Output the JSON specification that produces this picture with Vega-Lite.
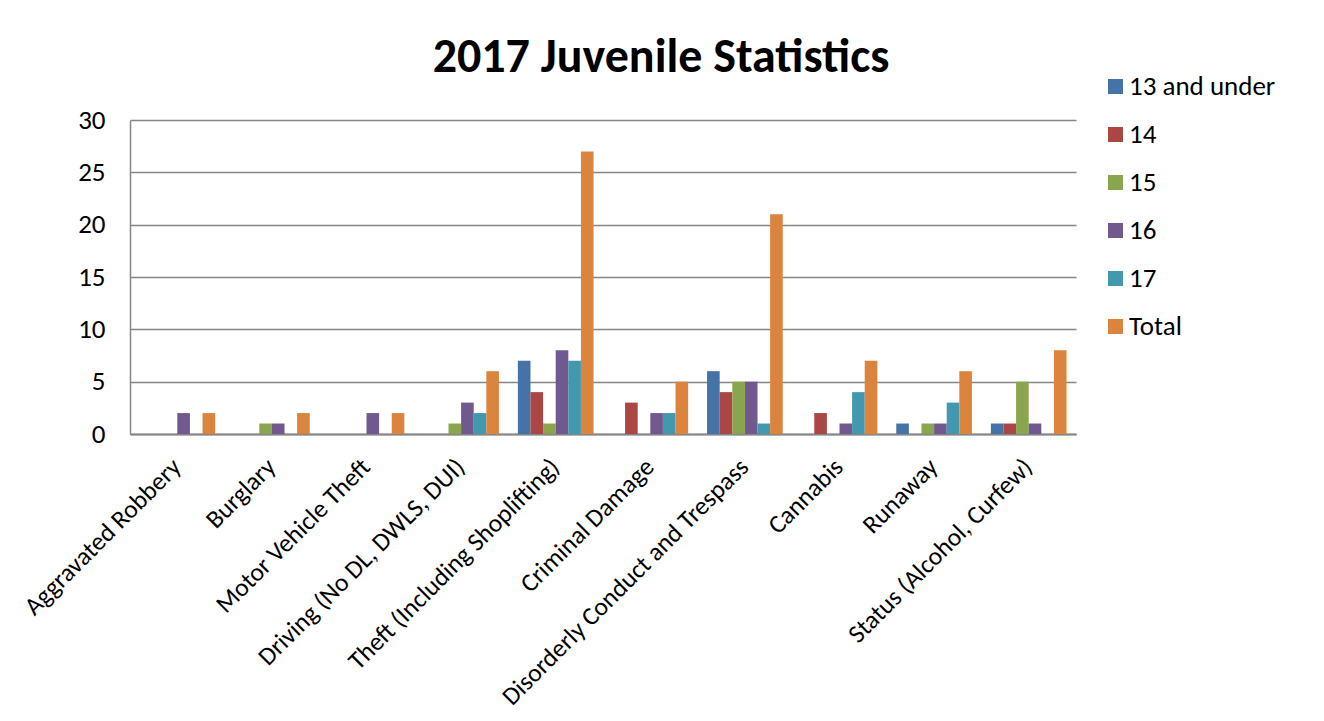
{
  "$schema": "https://vega.github.io/schema/vega-lite/v6.json",
  "width": 946,
  "height": 314,
  "autosize": {"type": "none"},
  "padding": {"left": 130, "top": 120, "right": 248, "bottom": 287},
  "background": "white",
  "title": {
    "text": "2017 Juvenile Statistics",
    "anchor": "middle",
    "frame": "group",
    "dx": 58,
    "fontSize": 48,
    "font": "Carlito, Open Sans, sans-serif",
    "fontWeight": "bold",
    "color": "black",
    "baseline": "alphabetic",
    "offset": -47
  },
  "data": {
    "values": [
      {"category": "Aggravated Robbery", "age": "13 and under", "count": 0},
      {"category": "Aggravated Robbery", "age": "14", "count": 0},
      {"category": "Aggravated Robbery", "age": "15", "count": 0},
      {"category": "Aggravated Robbery", "age": "16", "count": 2},
      {"category": "Aggravated Robbery", "age": "17", "count": 0},
      {"category": "Aggravated Robbery", "age": "Total", "count": 2},
      {"category": "Burglary", "age": "13 and under", "count": 0},
      {"category": "Burglary", "age": "14", "count": 0},
      {"category": "Burglary", "age": "15", "count": 1},
      {"category": "Burglary", "age": "16", "count": 1},
      {"category": "Burglary", "age": "17", "count": 0},
      {"category": "Burglary", "age": "Total", "count": 2},
      {"category": "Motor Vehicle Theft", "age": "13 and under", "count": 0},
      {"category": "Motor Vehicle Theft", "age": "14", "count": 0},
      {"category": "Motor Vehicle Theft", "age": "15", "count": 0},
      {"category": "Motor Vehicle Theft", "age": "16", "count": 2},
      {"category": "Motor Vehicle Theft", "age": "17", "count": 0},
      {"category": "Motor Vehicle Theft", "age": "Total", "count": 2},
      {"category": "Driving (No DL, DWLS, DUI)", "age": "13 and under", "count": 0},
      {"category": "Driving (No DL, DWLS, DUI)", "age": "14", "count": 0},
      {"category": "Driving (No DL, DWLS, DUI)", "age": "15", "count": 1},
      {"category": "Driving (No DL, DWLS, DUI)", "age": "16", "count": 3},
      {"category": "Driving (No DL, DWLS, DUI)", "age": "17", "count": 2},
      {"category": "Driving (No DL, DWLS, DUI)", "age": "Total", "count": 6},
      {"category": "Theft (Including Shoplifting)", "age": "13 and under", "count": 7},
      {"category": "Theft (Including Shoplifting)", "age": "14", "count": 4},
      {"category": "Theft (Including Shoplifting)", "age": "15", "count": 1},
      {"category": "Theft (Including Shoplifting)", "age": "16", "count": 8},
      {"category": "Theft (Including Shoplifting)", "age": "17", "count": 7},
      {"category": "Theft (Including Shoplifting)", "age": "Total", "count": 27},
      {"category": "Criminal Damage", "age": "13 and under", "count": 0},
      {"category": "Criminal Damage", "age": "14", "count": 3},
      {"category": "Criminal Damage", "age": "15", "count": 0},
      {"category": "Criminal Damage", "age": "16", "count": 2},
      {"category": "Criminal Damage", "age": "17", "count": 2},
      {"category": "Criminal Damage", "age": "Total", "count": 5},
      {"category": "Disorderly Conduct and Trespass", "age": "13 and under", "count": 6},
      {"category": "Disorderly Conduct and Trespass", "age": "14", "count": 4},
      {"category": "Disorderly Conduct and Trespass", "age": "15", "count": 5},
      {"category": "Disorderly Conduct and Trespass", "age": "16", "count": 5},
      {"category": "Disorderly Conduct and Trespass", "age": "17", "count": 1},
      {"category": "Disorderly Conduct and Trespass", "age": "Total", "count": 21},
      {"category": "Cannabis", "age": "13 and under", "count": 0},
      {"category": "Cannabis", "age": "14", "count": 2},
      {"category": "Cannabis", "age": "15", "count": 0},
      {"category": "Cannabis", "age": "16", "count": 1},
      {"category": "Cannabis", "age": "17", "count": 4},
      {"category": "Cannabis", "age": "Total", "count": 7},
      {"category": "Runaway", "age": "13 and under", "count": 1},
      {"category": "Runaway", "age": "14", "count": 0},
      {"category": "Runaway", "age": "15", "count": 1},
      {"category": "Runaway", "age": "16", "count": 1},
      {"category": "Runaway", "age": "17", "count": 3},
      {"category": "Runaway", "age": "Total", "count": 6},
      {"category": "Status (Alcohol, Curfew)", "age": "13 and under", "count": 1},
      {"category": "Status (Alcohol, Curfew)", "age": "14", "count": 1},
      {"category": "Status (Alcohol, Curfew)", "age": "15", "count": 5},
      {"category": "Status (Alcohol, Curfew)", "age": "16", "count": 1},
      {"category": "Status (Alcohol, Curfew)", "age": "17", "count": 0},
      {"category": "Status (Alcohol, Curfew)", "age": "Total", "count": 8}
    ]
  },
  "mark": {"type": "bar"},
  "encoding": {
    "x": {
      "field": "category",
      "type": "nominal",
      "sort": null,
      "title": null,
      "scale": {"paddingInner": 0.2, "paddingOuter": 0.1},
      "axis": {
        "labelAngle": -45,
        "labelFontSize": 25.5,
        "labelFont": "Carlito, Open Sans, sans-serif",
        "labelColor": "black",
        "labelPadding": 20,
        "labelOffset": -9,
        "labelLimit": 0,
        "ticks": false,
        "domainColor": "#868686",
        "domainWidth": 2,
        "grid": false
      }
    },
    "xOffset": {
      "field": "age",
      "type": "nominal",
      "sort": ["13 and under", "14", "15", "16", "17", "Total"],
      "scale": {"paddingInner": 0, "paddingOuter": 0}
    },
    "y": {
      "field": "count",
      "type": "quantitative",
      "title": null,
      "scale": {"domain": [0, 30], "nice": false},
      "axis": {
        "values": [0, 5, 10, 15, 20, 25, 30],
        "labelFontSize": 27,
        "labelFont": "Carlito, Open Sans, sans-serif",
        "labelColor": "black",
        "labelPadding": 25,
        "ticks": false,
        "domainColor": "#868686",
        "domainWidth": 1.5,
        "gridColor": "#868686",
        "gridWidth": 1.5
      }
    },
    "color": {
      "field": "age",
      "type": "nominal",
      "sort": ["13 and under", "14", "15", "16", "17", "Total"],
      "title": null,
      "scale": {
        "domain": ["13 and under", "14", "15", "16", "17", "Total"],
        "range": ["#4572A7", "#AA4643", "#89A54E", "#71588F", "#4198AF", "#DB843D"]
      },
      "legend": {
        "orient": "none",
        "legendX": 972,
        "legendY": -47,
        "symbolType": "square",
        "symbolSize": 225,
        "symbolStrokeWidth": 0,
        "labelFontSize": 27,
        "labelFont": "Carlito, Open Sans, sans-serif",
        "labelColor": "black",
        "labelOffset": 0,
        "rowPadding": 20
      }
    }
  },
  "config": {
    "view": {"stroke": null}
  }
}
